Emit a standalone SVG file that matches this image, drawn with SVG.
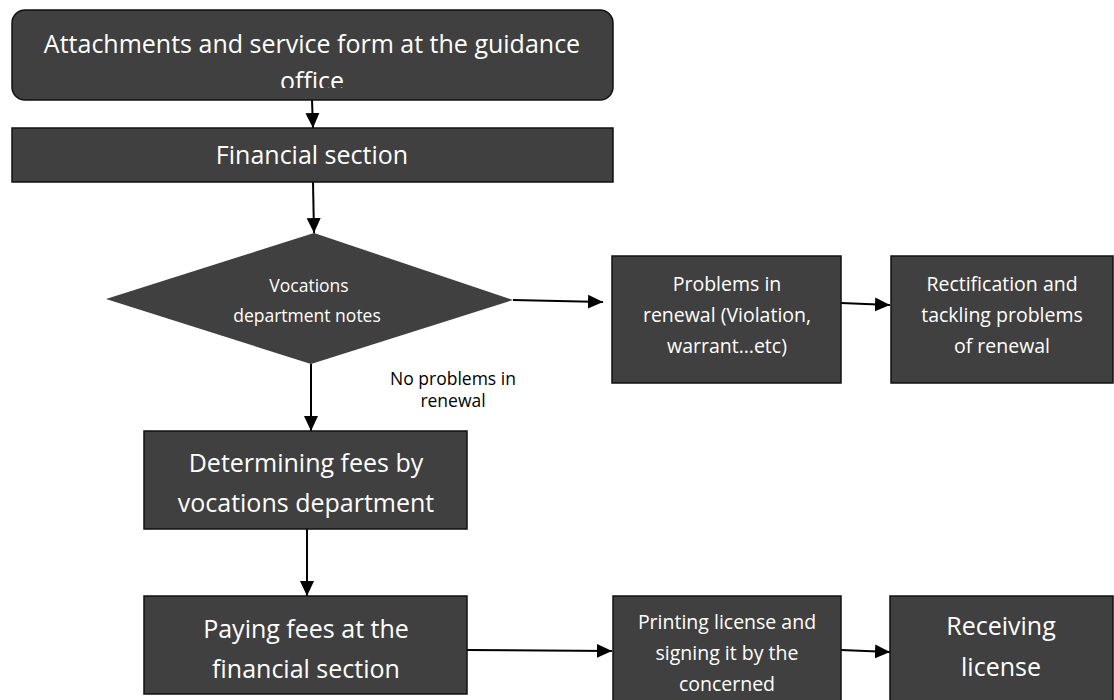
<svg xmlns="http://www.w3.org/2000/svg" width="1114" height="700" viewBox="0 0 1114 700">
  <style>
    .box { fill: #404040; stroke: #111111; stroke-width: 1.5; }
    .dia { fill: #404040; stroke: none; }
    .t { fill: #ffffff; font-family: "Open Sans", "Noto Sans", "Liberation Sans", sans-serif; text-anchor: middle; }
    .xl { font-size: 25px; }
    .md { font-size: 19.5px; }
    .sm { font-size: 17.5px; }
    .lbl { fill: #000000; font-family: "Open Sans", "Noto Sans", "Liberation Sans", sans-serif; font-size: 17.5px; text-anchor: middle; }
    .conn { fill: none; stroke: #000000; stroke-width: 2; }
  </style>
  <defs>
    <marker id="arrow" markerUnits="userSpaceOnUse" markerWidth="16" markerHeight="16" viewBox="0 0 16 16" refX="15" refY="8" orient="auto">
      <path d="M0,1 L15,8 L0,15 Z" fill="#000000"/>
    </marker>
    <!-- text area of the rounded start box; overflowing text is cut off -->
    <clipPath id="clipTop">
      <rect x="12" y="10" width="601" height="78"/>
    </clipPath>
  </defs>

  <rect width="1114" height="700" fill="#ffffff"/>

  <!-- connectors -->
  <g id="connectors">
    <path class="conn" d="M312,100 L313,128" marker-end="url(#arrow)"/>
    <path class="conn" d="M313,182 L314,233" marker-end="url(#arrow)"/>
    <path class="conn" d="M513,300 L603,302" marker-end="url(#arrow)"/>
    <path class="conn" d="M841,303 L890,305" marker-end="url(#arrow)"/>
    <path class="conn" d="M311,364 L311,431" marker-end="url(#arrow)"/>
    <path class="conn" d="M307,529 L307,596" marker-end="url(#arrow)"/>
    <path class="conn" d="M467,650 L612,651" marker-end="url(#arrow)"/>
    <path class="conn" d="M841,650 L890,652" marker-end="url(#arrow)"/>
  </g>

  <g id="node-attachments">
    <rect class="box" x="12" y="10" width="601" height="90" rx="13" ry="13"/>
    <g clip-path="url(#clipTop)">
      <text class="t xl" x="312" y="53">Attachments and service form at the guidance</text>
      <text class="t xl" x="312" y="90">office</text>
    </g>
  </g>

  <g id="node-financial">
    <rect class="box" x="12" y="128" width="601" height="54"/>
    <text class="t xl" x="312" y="164">Financial section</text>
  </g>

  <g id="node-notes">
    <polygon class="dia" points="314,233 513,300 311,364 106,299"/>
    <text class="t sm" x="309" y="292">Vocations</text>
    <text class="t sm" x="307" y="322">department notes</text>
  </g>

  <g id="label-no-problems">
    <text class="lbl" x="453" y="385">No problems in</text>
    <text class="lbl" x="453" y="407">renewal</text>
  </g>

  <g id="node-problems">
    <rect class="box" x="612" y="256" width="229" height="127"/>
    <text class="t md" x="727" y="291">Problems in</text>
    <text class="t md" x="727" y="322">renewal (Violation,</text>
    <text class="t md" x="727" y="353">warrant…etc)</text>
  </g>

  <g id="node-rectification">
    <rect class="box" x="891" y="256" width="222" height="127"/>
    <text class="t md" x="1002" y="291">Rectification and</text>
    <text class="t md" x="1002" y="322">tackling problems</text>
    <text class="t md" x="1002" y="353">of renewal</text>
  </g>

  <g id="node-determining">
    <rect class="box" x="144" y="431" width="323" height="98"/>
    <text class="t xl" x="306" y="472">Determining fees by</text>
    <text class="t xl" x="306" y="512">vocations department</text>
  </g>

  <g id="node-paying">
    <rect class="box" x="144" y="596" width="323" height="98"/>
    <text class="t xl" x="306" y="638">Paying fees at the</text>
    <text class="t xl" x="306" y="678">financial section</text>
  </g>

  <g id="node-printing">
    <rect class="box" x="613" y="596" width="228" height="110"/>
    <text class="t md" x="727" y="629">Printing license and</text>
    <text class="t md" x="727" y="660">signing it by the</text>
    <text class="t md" x="727" y="691">concerned</text>
  </g>

  <g id="node-receiving">
    <rect class="box" x="890" y="596" width="223" height="110"/>
    <text class="t xl" x="1001" y="635">Receiving</text>
    <text class="t xl" x="1001" y="676">license</text>
  </g>
</svg>
